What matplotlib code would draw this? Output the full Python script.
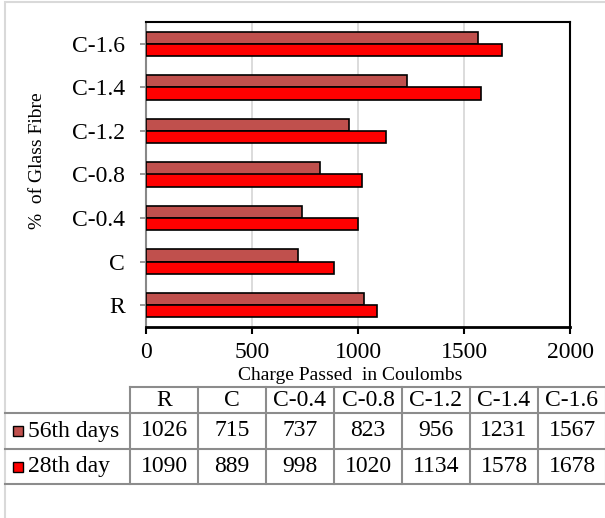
import matplotlib
matplotlib.use("Agg")
import matplotlib.pyplot as plt
from matplotlib.lines import Line2D
from matplotlib.patches import Rectangle
import numpy as np

categories = ['R', 'C', 'C-0.4', 'C-0.8', 'C-1.2', 'C-1.4', 'C-1.6']
series_names = ['56th days', '28th day']
day56 = [1026, 715, 737, 823, 956, 1231, 1567]
day28 = [1090, 889, 998, 1020, 1134, 1578, 1678]
colors = ['#C0504D', '#FF0000']
xticks = [0, 500, 1000, 1500, 2000]

plt.rcParams['font.family'] = 'Liberation Serif'

W, H = 605, 518
fig = plt.figure(figsize=(W / 100, H / 100), dpi=100)


def fx(px):
    return px / W


def fy(py):
    return 1 - py / H


# outer chart border
fig.add_artist(Rectangle((fx(5), fy(600)), 1, fy(2) - fy(600), transform=fig.transFigure,
                         fill=False, edgecolor='#d9d9d9', linewidth=1.5))

ax = fig.add_axes([fx(146), fy(327), fx(570) - fx(146), fy(22) - fy(327)])
y = np.arange(len(categories))
h = 0.28
ax.barh(y + h / 2, day56, height=h, color=colors[0], edgecolor='black', linewidth=1.2, zorder=3)
ax.barh(y - h / 2, day28, height=h, color=colors[1], edgecolor='black', linewidth=1.2, zorder=3)

ax.set_xlim(0, 2000)
ax.set_ylim(-0.5, len(categories) - 0.5)
ax.set_xticks(xticks)
ax.set_yticks(y)
ax.set_yticklabels(categories)
ax.tick_params(axis='x', direction='out', length=5, width=1.5, color='black', labelsize=17, pad=6)
ax.tick_params(axis='y', direction='out', length=4, width=1.2, color='#888888', labelsize=17, pad=11)
ax.grid(axis='x', color='#d9d9d9', linewidth=1.3, zorder=0)
for s in ['top', 'right', 'bottom']:
    ax.spines[s].set_color('black')
    ax.spines[s].set_linewidth(1.5)
ax.spines['bottom'].set_linewidth(2)
ax.spines['left'].set_color('#888888')
ax.spines['left'].set_linewidth(1.5)

fig.text(fx(38), fy(161), '%  of Glass Fibre', rotation=90, ha='center', va='center', fontsize=14)
fig.text(fx(350), fy(376), 'Charge Passed  in Coulombs', ha='center', va='center', fontsize=14)

# data table below the chart
col_left = 130
col_w = 68
row_lines = [387, 413, 449, 484]
grid_c = '#8c8c8c'
ncol = len(categories)
table_right = col_left + col_w * ncol

fig.add_artist(Line2D([fx(col_left), fx(table_right)], [fy(row_lines[0])] * 2, color=grid_c, lw=1.5))
for ry in row_lines[1:]:
    fig.add_artist(Line2D([fx(5), fx(table_right)], [fy(ry)] * 2, color=grid_c, lw=1.5))
for i in range(ncol + 1):
    xx = col_left + col_w * i
    fig.add_artist(Line2D([fx(xx), fx(xx)], [fy(row_lines[0]), fy(row_lines[-1])], color=grid_c, lw=1.5))

for i, cat in enumerate(categories):
    cx = col_left + col_w * (i + 0.5)
    fig.text(fx(cx), fy((row_lines[0] + row_lines[1]) / 2), cat, ha='center', va='center', fontsize=17)
    for r, vals in enumerate([day56, day28]):
        cy = (row_lines[r + 1] + row_lines[r + 2]) / 2
        fig.text(fx(cx), fy(cy), str(vals[i]), ha='center', va='center', fontsize=17)

for r, name in enumerate(series_names):
    cy = (row_lines[r + 1] + row_lines[r + 2]) / 2
    fig.add_artist(Rectangle((fx(13), fy(cy + 5)), fx(10), fy(0) - fy(10), transform=fig.transFigure,
                             facecolor=colors[r], edgecolor='black', linewidth=1.0))
    fig.text(fx(28), fy(cy), name, ha='left', va='center', fontsize=17)

fig.savefig('out.png', dpi=100)
